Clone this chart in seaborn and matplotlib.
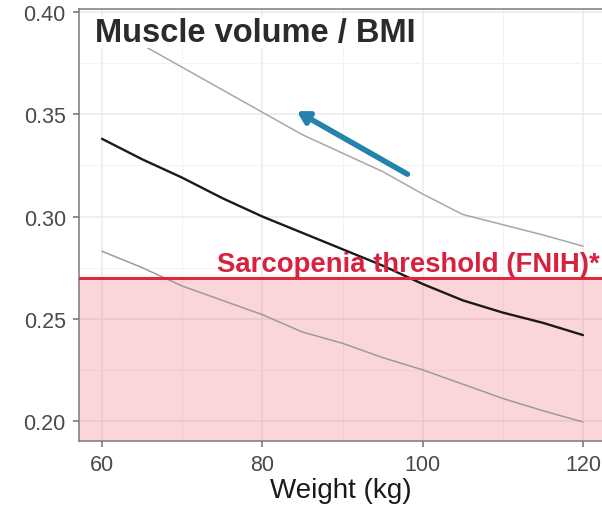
import numpy as np
import pandas as pd
import matplotlib
matplotlib.use("Agg")
import matplotlib.pyplot as plt
import seaborn as sns

# ---- data ----
weight = [60, 65, 70, 75, 80, 85, 90, 95, 100, 105, 110, 115, 120]
median_vals = [0.338, 0.328, 0.319, 0.309, 0.300, 0.292, 0.284, 0.276, 0.267, 0.259, 0.253, 0.248, 0.242]
upper_vals = [0.395, 0.384, 0.373, 0.362, 0.351, 0.340, 0.331, 0.322, 0.311, 0.301, 0.296, 0.291, 0.2855]
lower_vals = [0.283, 0.275, 0.266, 0.259, 0.252, 0.2435, 0.238, 0.231, 0.225, 0.218, 0.211, 0.205, 0.1995]
threshold = 0.27
x_ticks = [60, 80, 100, 120]
y_ticks = [0.20, 0.25, 0.30, 0.35, 0.40]
y_tick_labels = ["0.20", "0.25", "0.30", "0.35", "0.40"]
arrow_start = (98.1, 0.3207)
arrow_end = (84.3, 0.3515)

df = pd.DataFrame({
    "weight": weight * 3,
    "value": median_vals + upper_vals + lower_vals,
    "series": ["median"] * len(weight) + ["upper"] * len(weight) + ["lower"] * len(weight),
})

sns.set_theme(style="white")
plt.rcParams["font.family"] = ["Liberation Sans", "DejaVu Sans"]

fig = plt.figure(figsize=(6.02, 5.06), dpi=100)
ax = fig.add_axes([79 / 602, 1 - 442 / 506, 1 - 79 / 602, (442 - 10) / 506])

xlim = (57.13, 122.37)
ylim = (0.1902, 0.4015)
ax.set_xlim(*xlim)
ax.set_ylim(*ylim)

# grid
for v in [60, 80, 100, 120]:
    ax.axvline(v, color="#EBEBEB", lw=1.1, zorder=0)
for v in [70, 90, 110]:
    ax.axvline(v, color="#F3F3F3", lw=0.7, zorder=0)
for v in y_ticks:
    ax.axhline(v, color="#EBEBEB", lw=1.1, zorder=0)
for v in [0.225, 0.275, 0.325, 0.375]:
    ax.axhline(v, color="#F3F3F3", lw=0.7, zorder=0)

# sarcopenia zone
ax.axhspan(ylim[0], threshold, color="#E41E3C", alpha=0.18, lw=0, zorder=1)

sns.lineplot(data=df[df.series == "upper"], x="weight", y="value", color="#ABA6A6",
             lw=1.1, ax=ax, zorder=2, legend=False)
sns.lineplot(data=df[df.series == "lower"], x="weight", y="value", color="#9E9A9A",
             lw=1.1, ax=ax, zorder=2, legend=False)
sns.lineplot(data=df[df.series == "median"], x="weight", y="value", color="#1A1A1A",
             lw=1.7, ax=ax, zorder=3, legend=False)

ax.axhline(threshold, color="#E0283C", lw=2.2, zorder=4)

ax.text(122.15, 0.2735, "Sarcopenia threshold (FNIH)*", color="#D8203F",
        fontsize=19.8, fontweight="bold", ha="right", va="baseline", zorder=5)

ax.text(59.1, 0.3857, "Muscle volume / BMI", color="#2B2B2B", fontsize=23.5,
        fontweight="bold", ha="left", va="baseline", zorder=6,
        bbox=dict(facecolor="white", edgecolor="none", pad=0))

ax.annotate("", xy=arrow_end, xytext=arrow_start,
            arrowprops=dict(arrowstyle="-|>,head_length=0.55,head_width=0.32",
                            color="#2383AC", lw=4, shrinkA=0, shrinkB=0),
            zorder=6)

ax.set_xticks(x_ticks)
ax.set_yticks(y_ticks)
ax.set_yticklabels(y_tick_labels)
ax.tick_params(axis="both", which="both", length=4.5, width=1.1, color="#6E6E6E",
               labelcolor="#4A4A4A", labelsize=15.5, left=True, bottom=True, pad=5)
ax.set_xlabel("Weight (kg)", fontsize=20, color="#1A1A1A", labelpad=1)
ax.set_ylabel("")

for s in ["left", "top", "bottom"]:
    ax.spines[s].set_color("#7A7A7A")
    ax.spines[s].set_linewidth(1.1)
ax.spines["right"].set_visible(False)

fig.savefig("out.png", dpi=100)
